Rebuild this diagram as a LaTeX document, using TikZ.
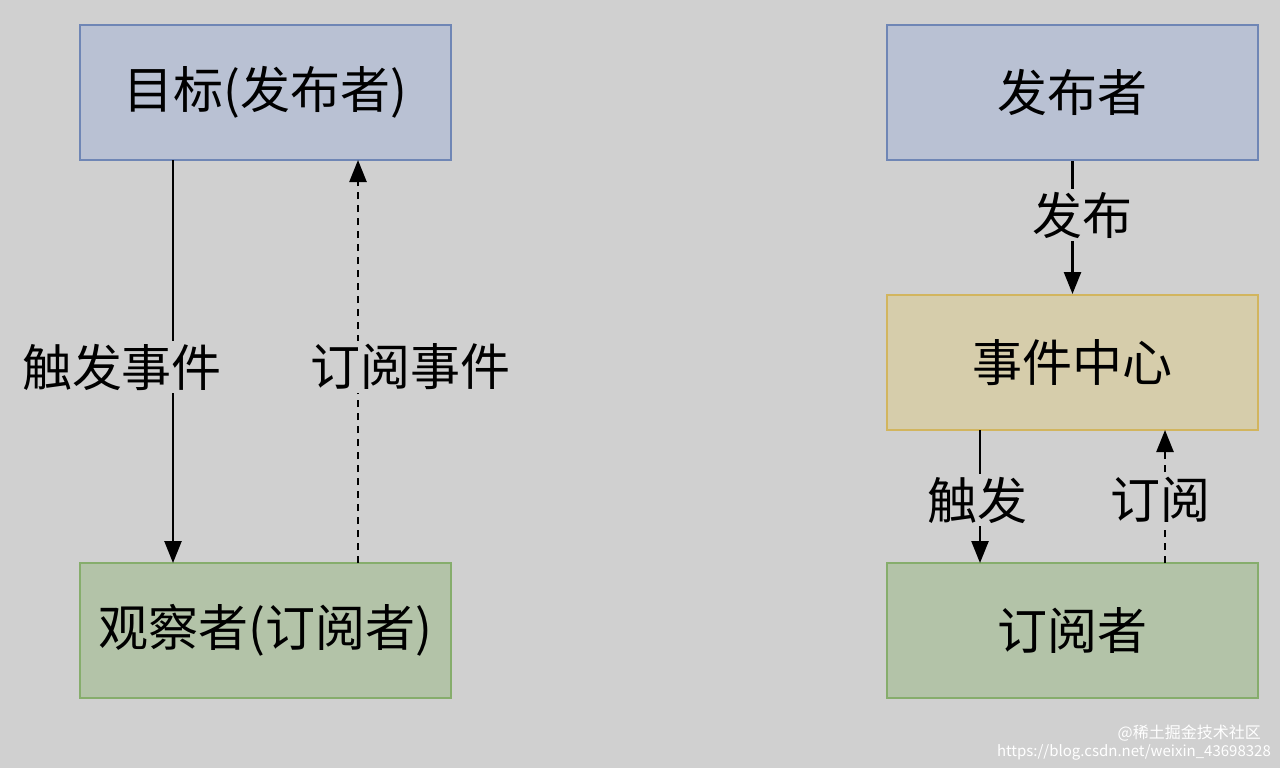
\documentclass[tikz,border=0pt]{standalone}
\usepackage{fontspec}
\newfontfamily\cjk{Noto Sans CJK SC}
\usetikzlibrary{arrows.meta}
\definecolor{bg}{HTML}{D0D0D0}
\definecolor{bfill}{HTML}{B9C1D3}
\definecolor{bdraw}{HTML}{6F86B5}
\definecolor{gfill}{HTML}{B3C3A8}
\definecolor{gdraw}{HTML}{86AD6C}
\definecolor{yfill}{HTML}{D6CDAB}
\definecolor{ydraw}{HTML}{D2B55E}
\tikzset{x=1pt,y=-1pt,
 box/.style={draw, line width=2pt, minimum width=371pt, minimum height=135pt, font=\cjk\fontsize{50}{58}\selectfont, inner sep=0pt},
 lbl/.style={fill=bg, font=\cjk\fontsize{50}{58}\selectfont, inner sep=3pt},
 arr/.style={line width=2.5pt, -{Triangle[length=22pt,width=17pt]}}}
\begin{document}
\begin{tikzpicture}
\fill[bg] (0,0) rectangle (1280,768);
\useasboundingbox (0,0) rectangle (1280,768);
\node[box, fill=bfill, draw=bdraw] (t) at (265.5,92.5) {目标(发布者)};
\node[box, fill=gfill, draw=gdraw] (o) at (265.5,630.5) {观察者(订阅者)};
\node[box, fill=bfill, draw=bdraw] (p) at (1072.5,92.5) {发布者};
\node[box, fill=yfill, draw=ydraw] (c) at (1072.5,362.5) {事件中心};
\node[box, fill=gfill, draw=gdraw] (s) at (1072.5,630.5) {订阅者};
\coordinate (a1) at (173,160); \coordinate (a2) at (173,563);
\draw[arr] (a1) -- (a2);
\node[lbl] at (122,367) {触发事件};
\coordinate (b1) at (358,563); \coordinate (b2) at (358,160);
\draw[arr, dash pattern=on 7pt off 6pt] (b1) -- (b2);
\node[lbl] at (410,367) {订阅事件};
\draw[arr] (p) -- (c);
\node[lbl] at (1082,215) {发布};
\coordinate (c1) at (980,430); \coordinate (c2) at (980,563);
\draw[arr] (c1) -- (c2);
\node[lbl] at (977,500) {触发};
\coordinate (d1) at (1165,563); \coordinate (d2) at (1165,430);
\draw[arr, dash pattern=on 7pt off 6pt] (d1) -- (d2);
\node[lbl] at (1160,500) {订阅};
\node[font=\cjk\fontsize{16}{18}\selectfont, text=white, anchor=east, inner sep=1pt] (w1) at (1262,733) {@稀土掘金技术社区};
\node[font=\cjk\fontsize{15}{18}\selectfont, text=white, anchor=east, inner sep=1pt] (w2) at (1272,752) {https://blog.csdn.net/weixin\_43698328};
\end{tikzpicture}
\end{document}
